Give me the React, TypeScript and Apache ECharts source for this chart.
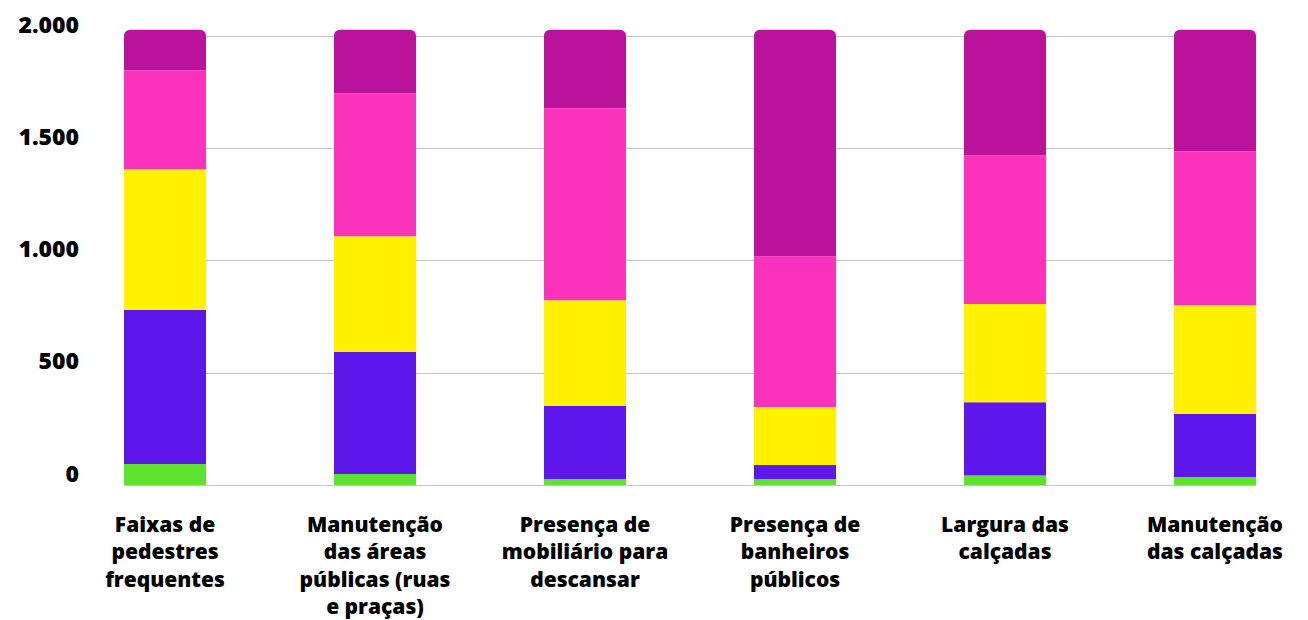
import React, { useEffect, useRef } from "react";
import * as echarts from "echarts";

const categories = [
  "Faixas de\npedestres\nfrequentes",
  "Manutenção\ndas áreas\npúblicas (ruas\ne praças)",
  "Presença de\nmobiliário para\ndescansar",
  "Presença de\nbanheiros\npúblicos",
  "Largura das\ncalçadas",
  "Manutenção\ndas calçadas",
];

const seriesNames = ["Série 1", "Série 2", "Série 3", "Série 4", "Série 5"];
const greenValues = [93, 49, 27, 27, 42, 36];
const blueValues = [686, 543, 325, 62, 327, 280];
const yellowValues = [627, 516, 471, 258, 437, 485];
const pinkValues = [441, 637, 855, 672, 663, 686];
const purpleValues = [181, 283, 350, 1009, 559, 541];

const yTicks = [0, 500, 1000, 1500, 2000];

const colors = ["#5DE32E", "#5E17EB", "#FFF100", "#FB33BC", "#BB129B"];
const FONT = "'Open Sans', 'Noto Sans', sans-serif";

export default function App() {
  const ref = useRef<HTMLDivElement>(null);

  useEffect(() => {
    if (!ref.current) return;
    const chart = echarts.init(ref.current, undefined, { renderer: "svg" });
    const allValues = [greenValues, blueValues, yellowValues, pinkValues, purpleValues];
    const yMax = yTicks[yTicks.length - 1];
    const interval = yTicks[1] - yTicks[0];

    const series = allValues.map((vals, i) => ({
      name: seriesNames[i],
      type: "bar",
      stack: "total",
      xAxisIndex: 0,
      yAxisIndex: 0,
      barWidth: 82,
      clip: false,
      data: vals,
      itemStyle: {
        color: colors[i],
        borderRadius: i === allValues.length - 1 ? [6, 6, 0, 0] : 0,
      },
    }));

    chart.setOption({
      animation: false,
      backgroundColor: "#ffffff",
      grid: [
        { left: 165, right: 93, top: 36, height: 449 },
        { left: 124, right: 52, top: 36, height: 449 },
      ],
      xAxis: [
        {
          type: "category",
          gridIndex: 0,
          boundaryGap: false,
          data: categories,
          axisLine: { show: false },
          axisTick: { show: false },
          splitLine: { show: false },
          axisLabel: {
            interval: 0,
            margin: 25,
            color: "#000000",
            fontFamily: FONT,
            fontWeight: 800,
            fontSize: 21,
            lineHeight: 27.5,
            align: "center",
            verticalAlign: "top",
          },
        },
        { type: "value", gridIndex: 1, show: false, min: 0, max: 1 },
      ],
      yAxis: [
        { type: "value", gridIndex: 0, min: 0, max: yMax, interval, show: false },
        {
          type: "value",
          gridIndex: 1,
          min: 0,
          max: yMax,
          interval,
          axisLine: { show: false },
          axisTick: { show: false },
          splitLine: { show: true, lineStyle: { color: "#c6c6c6", width: 1 } },
          axisLabel: {
            margin: 45,
            color: "#000000",
            fontFamily: FONT,
            fontWeight: 800,
            fontSize: 23,
            lineHeight: 23,
            verticalAlign: "bottom",
            padding: [0, 0, 1, 0],
            formatter: (v: number) =>
              v.toString().replace(/\B(?=(\d{3})+(?!\d))/g, "."),
          },
        },
      ],
      series,
    });

    return () => chart.dispose();
  }, []);

  return (
    <div
      ref={ref}
      style={{ position: "absolute", left: 0, top: 0, width: 1308, height: 620 }}
    />
  );
}
